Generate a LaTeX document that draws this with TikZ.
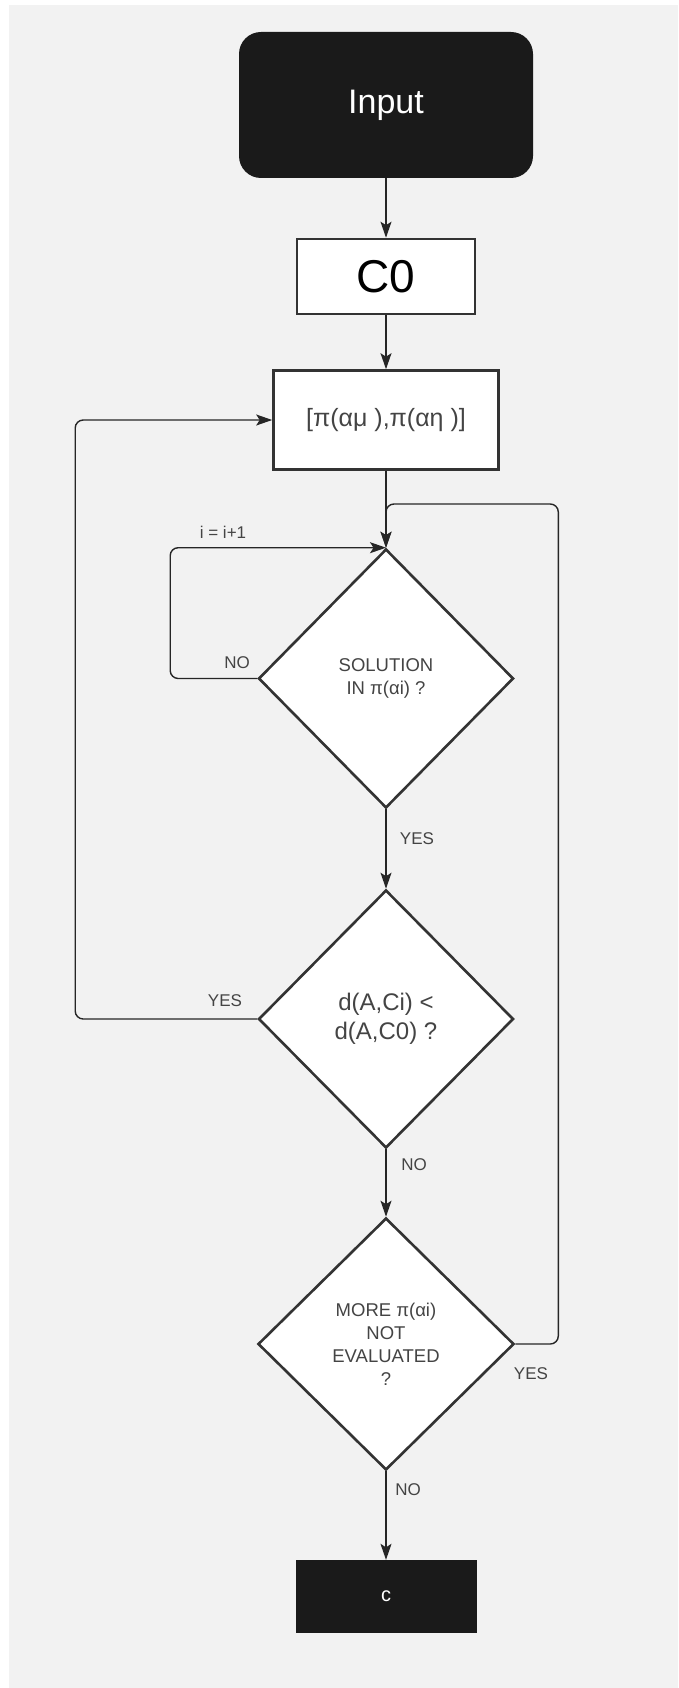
\documentclass[tikz,border=0pt]{standalone}
\usepackage{fontspec}
\setmainfont{Liberation Sans}
\usepackage{xcolor}
\usetikzlibrary{arrows.meta,shapes.geometric}
\definecolor{bggray}{HTML}{F2F2F2}
\definecolor{boxfill}{HTML}{1A1A1A}
\definecolor{edgegray}{HTML}{333333}
\definecolor{txtgray}{HTML}{444444}
\tikzset{
  flow/.style={draw=black!85,line width=1.4pt,-{Stealth[length=16pt,width=11pt,inset=3.5pt]},rounded corners=8pt},
  plainbox/.style={draw=edgegray,line width=2.6pt,fill=white,inner sep=0pt},
  darkbox/.style={fill=boxfill,text=white,inner sep=0pt},
  decision/.style={diamond,draw=edgegray,line width=2.6pt,fill=white,inner sep=0pt,align=center,text=txtgray,font=\fontsize{18.5}{23}\selectfont},
  tag/.style={text=txtgray,font=\fontsize{17}{20}\selectfont,inner sep=0pt}
}
\begin{document}
\begin{tikzpicture}[x=1pt,y=-1pt]
  \useasboundingbox (0,0) rectangle (678,1688);
  \fill[white] (0,0) rectangle (678,1688);
  \fill[bggray] (9,5) rectangle (678,1688);
  \node[darkbox,rounded corners=22pt,minimum width=294pt,minimum height=146pt,font=\fontsize{34}{40}\selectfont] (input) at (386,105) {Input};
  \node[plainbox,minimum width=178pt,minimum height=75pt,font=\fontsize{46}{50}\selectfont] (czero) at (386,276.5) {C0};
  \node[plainbox,minimum width=225pt,minimum height=99pt,text=txtgray,font=\fontsize{25}{30}\selectfont] (range) at (386,420) {[π(αμ ),π(αη )]};
  \node[decision,minimum width=255pt,minimum height=259pt] (sol) at (386,678.5) {SOLUTION\\IN π(αi) ?};
  \node[decision,minimum width=255pt,minimum height=258pt,font=\fontsize{24}{29}\selectfont] (dist) at (386,1019) {d(A,Ci) <\\d(A,C0) ?};
  \node[decision,minimum width=256pt,minimum height=252pt] (more) at (386,1344) {MORE π(αi)\\NOT\\EVALUATED\\?};
  \node[darkbox,minimum width=181pt,minimum height=73pt,font=\fontsize{20}{24}\selectfont] (result) at (386,1596.5) {c};
  \coordinate (merge) at (386,504);
  \foreach \a/\b in {input/czero,czero/range,range/sol,sol/dist,dist/more,more/result}{
    \draw[flow] (\a.south) -- (\b.north);
  }
  \draw[flow] (more.east) -- ++(43,0) |- (merge) -- (sol.north);
  \draw[flow] (sol.west) -- ++(-87,0) |- (sol.north);
  \draw[flow] (dist.west) -- ++(-182,0) |- (range.west);
  \node[tag] (inc) at (223,532) {i = i+1};
  \node[tag] (nosol) at (237,663) {NO};
  \node[tag] (yessol) at (417,839) {YES};
  \node[tag] (yesdist) at (225,1001) {YES};
  \node[tag] (nodist) at (414,1165) {NO};
  \node[tag] (yesmore) at (531,1374) {YES};
  \node[tag] (nomore) at (408,1490) {NO};
\end{tikzpicture}
\end{document}
